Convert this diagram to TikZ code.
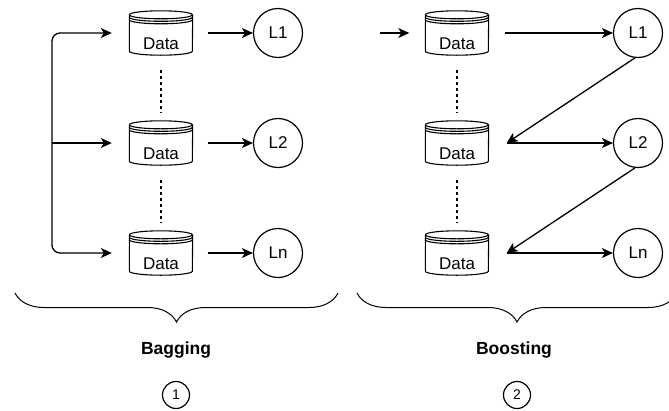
\documentclass[tikz,border=0pt]{standalone}
\usepackage{fontspec}
\setmainfont{Liberation Sans}
\usetikzlibrary{arrows.meta,decorations.pathreplacing}
\def\drawarrow{\draw[-{Stealth[length=11pt,width=10pt,inset=3pt]}, line width=1.3pt]}
\def\drawdots{\draw[dash pattern=on 3pt off 3pt, line width=1.1pt]}
\def\datanode{\node[inner xsep=0pt,inner ysep=0pt,minimum width=63pt,text height=38pt,text depth=6pt,font=\fontsize{17}{20}\selectfont]}
\def\learnnode{\node[circle,draw=black,line width=1.2pt,minimum size=49pt,inner sep=0pt,font=\fontsize{17}{20}\selectfont]}
\def\stepnode{\node[circle,draw=black,line width=1.2pt,minimum size=27pt,inner sep=0pt,font=\fontsize{14}{16}\selectfont]}
\newcommand{\drawstore}[1]{%
\draw[line width=1.1pt] ([yshift=-4pt]#1.north west) arc[start angle=180,end angle=-180,x radius=31.5pt,y radius=4pt];
\draw[line width=1.1pt] ([yshift=-6.5pt]#1.north west) arc[start angle=180,end angle=360,x radius=31.5pt,y radius=4pt];
\draw[line width=1.1pt] ([yshift=-9pt]#1.north west) arc[start angle=180,end angle=360,x radius=31.5pt,y radius=4pt];
\draw[line width=1.1pt] ([yshift=-4pt]#1.north west) -- ([yshift=4pt]#1.south west)
  arc[start angle=180,end angle=360,x radius=31.5pt,y radius=4pt] -- ([yshift=-4pt]#1.north east);
}

\begin{document}
\begin{tikzpicture}[x=1pt,y=1pt]
\clip (0,0) rectangle (669,-410);
% bagging
\datanode (bd1) at (161,-33) {Data};
\datanode (bd2) at (161,-143) {Data};
\datanode (bd3) at (161,-253) {Data};
\learnnode (bl1) at (278,-33) {L1};
\learnnode (bl2) at (278,-143) {L2};
\learnnode (bl3) at (278,-253) {Ln};
\drawstore{bd1}
\drawstore{bd2}
\drawstore{bd3}
\coordinate (split) at (52,-143);
\drawarrow[rounded corners=8pt] (split) |- ([xshift=-17.5pt]bd1.west);
\drawarrow (split) -- ([xshift=-17.5pt]bd2.west);
\drawarrow[rounded corners=8pt] (split) |- ([xshift=-17.5pt]bd3.west);
\drawarrow ([xshift=15pt]bd1.east) -- (bl1);
\drawarrow ([xshift=15pt]bd2.east) -- (bl2);
\drawarrow ([xshift=15pt]bd3.east) -- (bl3);
\drawdots ([yshift=-15pt]bd1.south) -- ([yshift=8pt]bd2.north);
\drawdots ([yshift=-15pt]bd2.south) -- ([yshift=8pt]bd3.north);
% boosting
\datanode (sd1) at (457,-33) {Data};
\datanode (sd2) at (457,-143) {Data};
\datanode (sd3) at (457,-253) {Data};
\learnnode (sl1) at (638,-33) {L1};
\learnnode (sl2) at (638,-143) {L2};
\learnnode (sl3) at (638,-253) {Ln};
\drawstore{sd1}
\drawstore{sd2}
\drawstore{sd3}
\coordinate (input) at (380,-33);
\coordinate (m2) at ([xshift=18pt]sd2.east);
\coordinate (m3) at ([xshift=18pt]sd3.east);
\drawarrow (input) -- ([xshift=-16pt]sd1.west);
\drawarrow ([xshift=16pt]sd1.east) -- (sl1);
\drawarrow (sl1.-97) -- (m2);
\drawarrow (m2) -- (sl2);
\drawarrow (sl2.-97) -- (m3);
\drawarrow (m3) -- (sl3);
\drawdots ([yshift=-15pt]sd1.south) -- ([yshift=8pt]sd2.north);
\drawdots ([yshift=-15pt]sd2.south) -- ([yshift=8pt]sd3.north);
% braces and captions
\draw[line width=1pt, decorate, decoration={brace, mirror, amplitude=29pt}] (15,-293) -- (338,-293);
\draw[line width=1pt, decorate, decoration={brace, mirror, amplitude=29pt}] (357,-293) -- (677,-293);
\node[anchor=base, font=\bfseries\fontsize{17.5}{20}\selectfont] (bagging) at (176,-354) {Bagging};
\node[anchor=base, font=\bfseries\fontsize{17.5}{20}\selectfont] (boosting) at (514,-354) {Boosting};
\stepnode (one) at (176,-395) {1};
\stepnode (two) at (517,-395) {2};
\end{tikzpicture}
\end{document}
